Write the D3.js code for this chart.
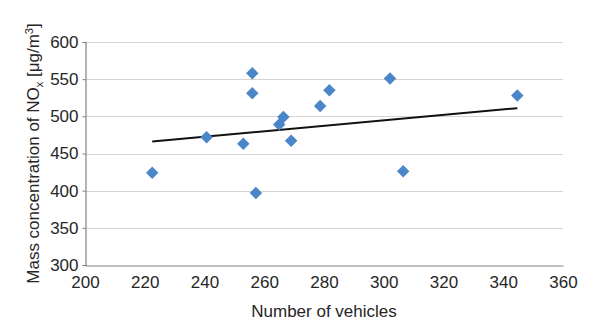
<!DOCTYPE html>
<html>
<head>
<meta charset="utf-8">
<script src="https://cdn.jsdelivr.net/npm/d3@7"></script>
<style>
  body { margin: 0; background: #fff; }
  text { font-family: "Liberation Sans", Arial, sans-serif; fill: #262626; }
</style>
</head>
<body>
<div id="chart"></div>
<script>
// values
const vehicles = [222.5, 240.7, 253, 256, 256, 257.2, 265, 266.4, 269, 278.7, 281.8, 302.1, 306.5, 344.7];
const noxConc  = [424, 472, 463, 558, 531, 397, 489, 499, 467, 514, 535, 551, 426, 528];
const trendX = [222.5, 344.7];
const trendY = [466, 511];
const xTicks = [200, 220, 240, 260, 280, 300, 320, 340, 360];
const yTicks = [300, 350, 400, 450, 500, 550, 600];

class Chart{
  constructor(opts){
    this.element = opts.element;
    this.points = vehicles.map((v, i) => ({x: v, y: noxConc[i]}));
    this.trend = trendX.map((v, i) => ({x: v, y: trendY[i]}));
  }

  draw(){
    this.width = 600;
    this.height = 328;
    this.margin = {top: 42, bottom: 63, left: 85, right: 37};

    const svg = d3.select(this.element).append('svg')
      .attr('width', this.width)
      .attr('height', this.height);

    this.innerW = this.width - this.margin.left - this.margin.right;
    this.innerH = this.height - this.margin.top - this.margin.bottom;

    this.plot = svg.append('g')
      .attr('transform', `translate(${this.margin.left},${this.margin.top})`);

    this.xScale = d3.scaleLinear().domain([200, 360]).range([0, this.innerW]);
    this.yScale = d3.scaleLinear().domain([300, 600]).range([this.innerH, 0]);

    this.addGrid();
    this.addAxes();
    this.addTrend();
    this.addPoints();
    this.addLabels(svg);
  }

  addGrid(){
    this.plot.append('g').selectAll('line')
      .data(yTicks.filter(d => d > 300))
      .join('line')
      .attr('x1', 0).attr('x2', this.innerW)
      .attr('y1', d => Math.round(this.yScale(d)) + 0.5)
      .attr('y2', d => Math.round(this.yScale(d)) + 0.5)
      .attr('stroke', '#d4d4d4')
      .attr('stroke-width', 1.2);
  }

  addAxes(){
    const yAxis = this.plot.append('g')
      .attr('transform', 'translate(0.5,0)')
      .call(d3.axisLeft(this.yScale).tickValues(yTicks).tickSize(3).tickPadding(4));
    const xAxis = this.plot.append('g')
      .attr('transform', `translate(0,${this.innerH + 0.5})`)
      .call(d3.axisBottom(this.xScale).tickValues(xTicks).tickSize(0).tickPadding(10));

    [xAxis, yAxis].forEach(ax => {
      ax.select('.domain').attr('stroke', '#808080').attr('stroke-width', 1.2);
      ax.selectAll('.tick line').attr('stroke', '#808080');
      ax.selectAll('text').attr('font-size', 17).attr('fill', '#262626')
        .attr('font-family', '"Liberation Sans", Arial, sans-serif');
    });
    xAxis.selectAll('.tick line').remove();
  }

  addTrend(){
    const line = d3.line().x(d => this.xScale(d.x)).y(d => this.yScale(d.y));
    this.plot.append('path')
      .datum(this.trend)
      .attr('d', line)
      .attr('fill', 'none')
      .attr('stroke', '#111')
      .attr('stroke-width', 2);
  }

  addPoints(){
    const sym = d3.symbol().type(d3.symbolSquare).size(78);
    this.plot.append('g').selectAll('path')
      .data(this.points)
      .join('path')
      .attr('d', sym)
      .attr('transform', d => `translate(${this.xScale(d.x)},${this.yScale(d.y)}) rotate(45)`)
      .attr('fill', '#4a86c8');
  }

  addLabels(svg){
    svg.append('text')
      .attr('x', this.margin.left + this.innerW / 2)
      .attr('y', 317)
      .attr('text-anchor', 'middle')
      .attr('font-size', 17)
      .text('Number of vehicles');

    const yt = svg.append('text')
      .attr('transform', `translate(38.5,${this.margin.top + this.innerH / 2}) rotate(-90)`)
      .attr('text-anchor', 'middle')
      .attr('font-size', 17);
    yt.append('tspan').text('Mass concentration of NO');
    yt.append('tspan').attr('font-size', 11).attr('dy', 4).text('x');
    yt.append('tspan').attr('dy', -4).text(' [μg/m');
    yt.append('tspan').attr('font-size', 11).attr('dy', -6).text('3');
    yt.append('tspan').attr('dy', 6).text(']');
  }
}

const chart = new Chart({element: document.getElementById('chart')});
chart.draw();
</script>
</body>
</html>
